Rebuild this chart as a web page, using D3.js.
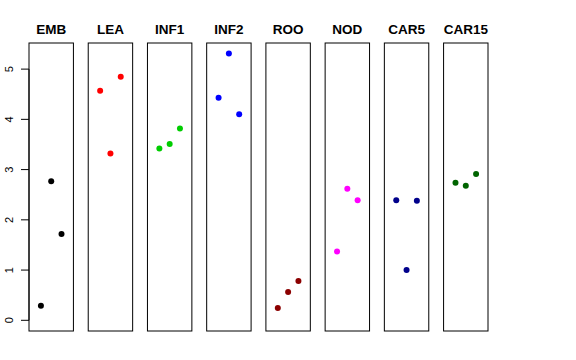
<!DOCTYPE html>
<html>
<head>
<meta charset="utf-8">
<script src="https://cdn.jsdelivr.net/npm/d3@7"></script>
<style>
body { margin: 0; background: #fff; }
svg { display: block; font-family: "Liberation Sans", Arial, sans-serif; }
</style>
</head>
<body>
<div id="chart"></div>
<script>
// panels (one per tissue) and their three values
var tissues = ["EMB", "LEA", "INF1", "INF2", "ROO", "NOD", "CAR5", "CAR15"];
var colors = ["#000000", "#ff0000", "#00cd00", "#0000ff", "#8b0000", "#ff00ff", "#00008b", "#006400"];
var values = [
	[0.29, 2.77, 1.72],
	[4.57, 3.32, 4.85],
	[3.42, 3.51, 3.82],
	[4.43, 5.31, 4.10],
	[0.245, 0.564, 0.783],
	[1.37, 2.62, 2.39],
	[2.39, 1.00, 2.38],
	[2.74, 2.68, 2.91]
];
var yTicks = [0, 1, 2, 3, 4, 5];

var width = 576, height = 360;
// note: "top" is taken by window.top, so use other names
var plotTop = 43, plotBottom = 331;

var svg = d3.select("#chart").append("svg")
	.attr("width", width)
	.attr("height", height);

var x = d3.scaleBand()
	.domain(tissues)
	.range([29, 488])
	.paddingInner(0.25)
	.paddingOuter(0);

var y = d3.scaleLinear()
	.domain([-0.213, 5.52])
	.range([plotBottom, plotTop]);

var bw = x.bandwidth();
var xi = d3.scalePoint()
	.domain([0, 1, 2])
	.range([bw / 2 - 10.3, bw / 2 + 10.3]);

// y axis on the left (R style, rotated labels)
var axis = svg.append("g");
axis.append("line")
	.attr("x1", 29).attr("x2", 29)
	.attr("y1", y(0)).attr("y2", y(5))
	.attr("stroke", "#000");
axis.selectAll("line.tick")
	.data(yTicks)
	.enter().append("line")
	.attr("class", "tick")
	.attr("x1", 21).attr("x2", 29)
	.attr("y1", function (d) { return y(d); })
	.attr("y2", function (d) { return y(d); })
	.attr("stroke", "#000");
axis.selectAll("text")
	.data(yTicks)
	.enter().append("text")
	.attr("transform", function (d) { return "translate(12.5," + y(d) + ") rotate(-90)"; })
	.attr("text-anchor", "middle")
	.attr("font-size", "11px")
	.text(function (d) { return d; });

var panels = svg.selectAll("g.panel")
	.data(tissues)
	.enter().append("g")
	.attr("class", "panel")
	.attr("transform", function (d) { return "translate(" + x(d) + ",0)"; });

panels.append("rect")
	.attr("x", 0)
	.attr("y", plotTop)
	.attr("width", bw)
	.attr("height", plotBottom - plotTop)
	.attr("fill", "none")
	.attr("stroke", "#000");

panels.append("text")
	.attr("x", bw / 2)
	.attr("y", 34)
	.attr("text-anchor", "middle")
	.attr("font-size", "13.5px")
	.attr("font-weight", "bold")
	.text(function (d) { return d; });

panels.selectAll("circle")
	.data(function (d, i) { return values[i].map(function (v) { return { v: v, c: colors[i] }; }); })
	.enter().append("circle")
	.attr("cx", function (d, j) { return xi(j); })
	.attr("cy", function (d) { return y(d.v); })
	.attr("r", 3)
	.attr("fill", function (d) { return d.c; });
</script>
</body>
</html>
